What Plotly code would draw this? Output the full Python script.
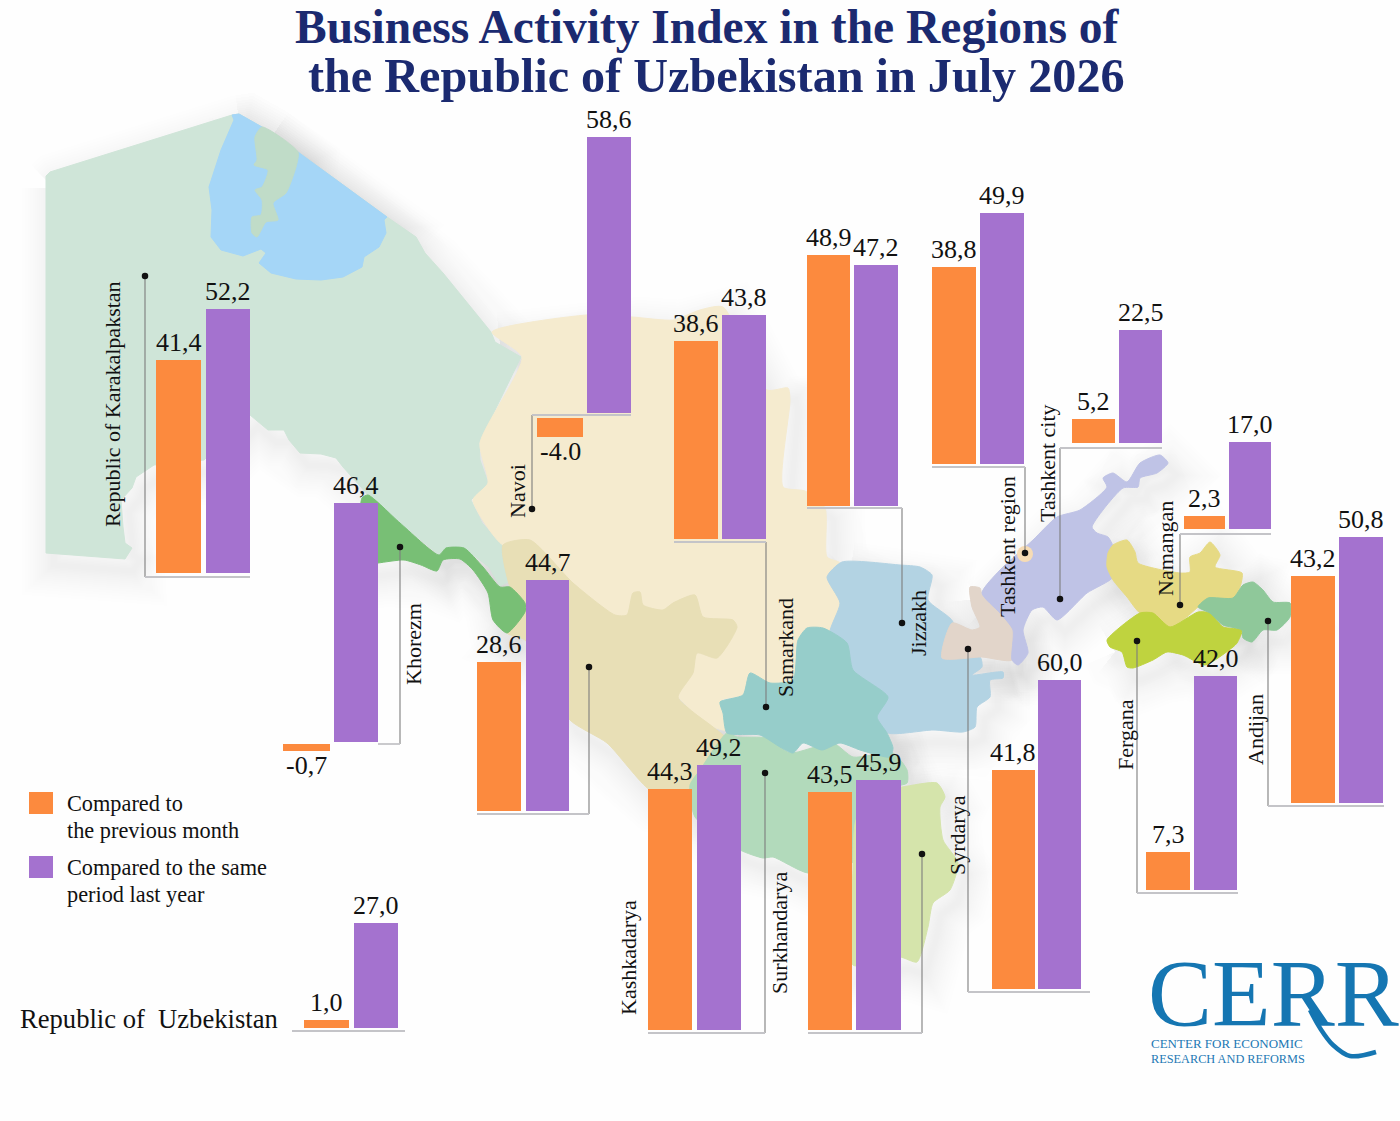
import plotly.graph_objects as go

W, H = 1400, 1121

# ---------- data ----------
regions = ["Republic of Karakalpakstan", "Navoi", "Samarkand", "Jizzakh", "Tashkent region",
           "Tashkent city", "Namangan", "Andijan", "Fergana", "Syrdarya", "Bukhara",
           "Khorezm", "Kashkadarya", "Surkhandarya", "Republic of Uzbekistan"]
prev_month = [41.4, -4.0, 38.6, 48.9, 38.8, 5.2, 2.3, 43.2, 7.3, 41.8, 28.6, -0.7, 44.3, 43.5, 1.0]
same_period = [52.2, 58.6, 43.8, 47.2, 49.9, 22.5, 17.0, 50.8, 42.0, 60.0, 44.7, 46.4, 49.2, 45.9, 27.0]
prev_labels = ["41,4", "-4.0", "38,6", "48,9", "38,8", "5,2", "2,3", "43,2", "7,3", "41,8", "28,6", "-0,7", "44,3", "43,5", "1,0"]
same_labels = ["52,2", "58,6", "43,8", "47,2", "49,9", "22,5", "17,0", "50,8", "42,0", "60,0", "44,7", "46,4", "49,2", "45,9", "27,0"]
series_names = ["Compared to<br>the previous month", "Compared to the same<br>period last year"]

# ---------- layout geometry (pixels of the page) ----------
ORANGE, PURPLE = "#fc8a3e", "#a472cf"
# per region: orange box, purple box as (x0, x1, top, bottom)
BOXES = [
    ((156, 201, 360, 573), (206, 250, 309, 573)),
    ((537, 583, 418, 437), (587, 631, 137, 413)),
    ((674, 718, 341, 539), (722, 766, 315, 539)),
    ((807, 850, 255, 506), (854, 898, 265, 506)),
    ((932, 976, 267, 464), (980, 1024, 213, 464)),
    ((1072, 1115, 419, 443), (1119, 1162, 330, 443)),
    ((1184, 1225, 516, 529), (1229, 1271, 442, 529)),
    ((1291, 1335, 576, 803), (1339, 1383, 537, 803)),
    ((1146, 1190, 852, 890), (1194, 1237, 676, 890)),
    ((992, 1035, 770, 989), (1038, 1081, 680, 989)),
    ((477, 521, 662, 811), (526, 569, 580, 811)),
    ((283, 330, 744, 751), (334, 378, 503, 742)),
    ((648, 692, 789, 1030), (697, 741, 765, 1030)),
    ((808, 852, 792, 1030), (856, 901, 780, 1030)),
    ((304, 349, 1020, 1028), (354, 398, 923, 1028)),
]
# leader: list of polyline points; first point carries the dot when there are three points
LEADERS = [
    [(145, 276), (145, 577), (250, 577)],
    [(532, 509), (532, 415), (631, 415)],
    [(766, 707), (766, 542), (674, 542)],
    [(902, 623), (902, 508), (807, 508)],
    [(1025, 553), (1025, 467), (932, 467)],
    [(1060, 599), (1060, 448), (1162, 448)],
    [(1180, 605), (1180, 534), (1271, 534)],
    [(1268, 621), (1268, 806), (1384, 806)],
    [(1137, 641), (1137, 893), (1238, 893)],
    [(968, 649), (968, 992), (1090, 992)],
    [(589, 667), (589, 814), (477, 814)],
    [(400, 547), (400, 744), (378, 744)],
    [(765, 773), (765, 1033), (648, 1033)],
    [(922, 854), (922, 1033), (808, 1033)],
    [(292, 1031), (405, 1031)],
]
ROT_LABELS = [
    ("Republic of Karakalpakstan", 112, 404), ("Navoi", 517, 491), ("Samarkand", 785, 648),
    ("Jizzakh", 918, 623), ("Tashkent region", 1007, 547), ("Tashkent city", 1047, 463),
    ("Namangan", 1165, 549), ("Andijan", 1255, 730), ("Fergana", 1125, 735),
    ("Syrdarya", 957, 835), ("Khorezm", 413, 644), ("Kashkadarya", 628, 958),
    ("Surkhandarya", 779, 933),
]

# ---------- decorative map outlines (pixels) ----------
KK = [(46,176),(50,172),(232,115),(239,114),(262,127),(298,152),(387,217),(416,237),(425,253),(443,273),
      (491,332),(495,342),(521,357),(479,443),(480,460),(488,483),(471,500),(482,523),(504,547),(521,575),
      (500,586),(489,567),(464,548),(446,548),(439,555),(400,523),(368,495),(343,467),(336,458),(321,454),
      (300,453),(289,440),(284,430),(268,430),(250,415),(204,460),(154,465),(136,477),(132,488),(121,500),
      (123,527),(125,543),(132,548),(125,559),(46,553)]
SEA = [(232,115),(239,114),(262,127),(298,152),(387,217),(384,220),(386,233),(379,247),(364,257),(362,267),
       (343,277),(321,280),(296,279),(271,273),(259,263),(266,253),(261,249),(243,256),(221,250),(211,237),
       (212,210),(209,187),(221,150),(234,120)]
ISLAND = [(262,127),(255,137),(257,160),(254,165),(268,170),(262,187),(255,190),(262,200),(261,215),(252,217),
          (252,233),(257,237),(266,222),(278,220),(273,203),(286,193),(296,167),(298,152)]
KHOREZM = [(362,498),(368,495),(400,523),(439,555),(446,548),(464,548),(483,567),(500,587),(510,587),(525,603),
           (525,612),(507,633),(493,620),(488,593),(473,570),(460,559),(443,560),(437,571),(421,565),(404,560),
           (378,563),(362,565)]
NAVOI = [(492,332),(587,315),(632,317),(673,320),(700,310),(723,307),(767,390),(788,388),(790,400),(783,487),
         (805,491),(825,508),(827,557),(840,563),(827,577),(840,603),(830,633),(798,640),(793,680),(770,683),
         (750,673),(743,695),(722,700),(727,730),(713,727),(693,712),(678,697),(600,640),(530,540),(503,545),
         (473,500),(488,483),(480,443),(522,357)]
BUKHARA = [(503,545),(530,540),(573,583),(615,615),(627,615),(633,593),(640,592),(643,605),(663,610),(673,603),
           (695,595),(703,617),(733,620),(737,627),(717,658),(697,653),(693,673),(678,697),(693,712),(713,727),
           (727,740),(700,770),(690,800),(650,790),(607,743),(570,720),(525,640),(507,633),(525,612),(510,587)]
JIZZAKH = [(842,562),(900,565),(920,567),(932,575),(928,600),(953,622),(942,658),(980,657),(982,667),(972,675),
           (1003,672),(1003,678),(990,680),(990,697),(977,707),(975,727),(963,732),(933,730),(888,733),(877,717),
           (888,697),(853,670),(847,643),(830,633),(840,603),(827,577)]
SYRDARYA = [(970,587),(980,588),(982,595),(1000,613),(1013,630),(1012,660),(982,657),(942,658),(952,623),(972,630),
            (980,627),(972,607)]
TASHKENT = [(982,593),(1000,570),(1033,540),(1057,517),(1080,510),(1107,487),(1103,478),(1113,473),(1127,482),
            (1140,463),(1160,455),(1168,463),(1157,473),(1140,478),(1138,487),(1123,488),(1092,527),(1097,533),
            (1108,537),(1113,547),(1107,557),(1113,577),(1087,593),(1057,620),(1043,607),(1032,610),(1023,630),
            (1028,653),(1018,665),(1012,660),(1013,630),(1000,613)]
NAMANGAN = [(1108,553),(1113,545),(1127,540),(1135,552),(1138,563),(1180,573),(1190,572),(1190,557),(1200,553),
            (1210,542),(1220,555),(1215,567),(1242,573),(1240,587),(1233,598),(1208,598),(1198,607),(1183,620),
            (1170,627),(1160,620),(1153,613),(1140,613),(1127,597),(1113,580),(1107,567)]
FERGANA = [(1107,640),(1140,613),(1153,613),(1170,627),(1198,612),(1210,613),(1223,627),(1242,630),(1237,643),
           (1233,647),(1205,665),(1183,655),(1167,652),(1153,660),(1133,668),(1127,667),(1122,652),(1110,647)]
ANDIJAN = [(1198,607),(1208,598),(1233,598),(1243,585),(1253,582),(1263,590),(1273,602),(1290,603),(1290,617),
           (1277,630),(1263,630),(1252,642),(1243,638),(1242,630),(1223,625),(1210,613)]
KASHKA = [(727,733),(737,737),(767,738),(790,753),(833,743),(853,757),(893,753),(907,770),(907,783),(880,790),
          (856,820),(856,860),(808,873),(773,857),(763,858),(740,850),(695,817),(690,785),(700,770)]
SURKHAN = [(880,790),(902,787),(937,783),(945,797),(940,807),(943,840),(958,863),(950,890),(933,903),(928,927),
           (917,962),(900,957),(853,965),(853,870),(856,820)]
SAMARKAND = [(720,702),(743,695),(750,673),(770,683),(793,680),(798,640),(807,628),(823,628),(847,643),(853,670),
             (888,697),(877,717),(887,733),(893,748),(890,757),(860,750),(840,743),(822,750),(803,743),(793,753),
             (780,747),(760,735),(727,733),(723,713)]
MAP = [
    (KK, "#cfe5d8", False), (SEA, "#a5d6f7", False), (ISLAND, "#c0dcc8", True), (NAVOI, "#f5ebcf", True),
    (BUKHARA, "#e8dfb6", True), (KHOREZM, "#78bf75", True), (JIZZAKH, "#b3d3e3", True), (SYRDARYA, "#e2d5ca", True),
    (TASHKENT, "#bfc3e6", True), (NAMANGAN, "#e6da84", True), (FERGANA, "#bfd33f", True), (ANDIJAN, "#8fc89a", True),
    (KASHKA, "#b2dabb", True), (SURKHAN, "#d5e4ab", True), (SAMARKAND, "#96cdca", True),
]
SERIF = "Liberation Serif"
fig = go.Figure()

# soft shadow under the map
sx, sy = [], []
for poly, _, _ in MAP:
    sx += [p[0] + 8 for p in poly] + [poly[0][0] + 8, None]
    sy += [p[1] + 12 for p in poly] + [poly[0][1] + 12, None]
for w in (64, 58, 52, 47, 42, 37, 33, 29, 25, 21, 17, 14, 11, 8, 5):
    fig.add_trace(go.Scatter(x=sx, y=sy, mode="lines", line=dict(color="rgba(90,90,90,0.007)", width=w),
                             hoverinfo="skip", showlegend=False, xaxis="x", yaxis="y"))
# regions
for poly, col, smooth in MAP:
    xs = [p[0] for p in poly] + [poly[0][0]]
    ys = [p[1] for p in poly] + [poly[0][1]]
    line = dict(color=col, width=1, shape="spline", smoothing=0.6) if smooth else dict(color=col, width=1)
    fig.add_trace(go.Scatter(x=xs, y=ys, mode="lines", fill="toself", fillcolor=col, line=line,
                             hoverinfo="skip", showlegend=False, xaxis="x", yaxis="y"))
# Tashkent city spot
fig.add_trace(go.Scatter(x=[1025], y=[554], mode="markers", marker=dict(size=16, color="#f7dcb4"),
                         hoverinfo="skip", showlegend=False, xaxis="x", yaxis="y"))
# leaders
for pts in LEADERS:
    if len(pts) == 3:
        fig.add_trace(go.Scatter(x=[pts[0][0], pts[1][0]], y=[pts[0][1], pts[1][1]], mode="lines",
                                 line=dict(color="#7d7d7d", width=1.1), hoverinfo="skip", showlegend=False))
        fig.add_trace(go.Scatter(x=[pts[1][0], pts[2][0]], y=[pts[1][1], pts[2][1]], mode="lines",
                                 line=dict(color="#c4c4c8", width=1.8), hoverinfo="skip", showlegend=False))
        fig.add_trace(go.Scatter(x=[pts[0][0]], y=[pts[0][1]], mode="markers", marker=dict(size=6.5, color="#111"),
                                 hoverinfo="skip", showlegend=False))
    else:
        fig.add_trace(go.Scatter(x=[p[0] for p in pts], y=[p[1] for p in pts], mode="lines",
                                 line=dict(color="#c4c4c8", width=1.8), hoverinfo="skip", showlegend=False))
# CERR tail
fig.add_trace(go.Scatter(x=[1310, 1320, 1333, 1350, 1376], y=[1010, 1028, 1045, 1056, 1052], mode="lines",
                         line=dict(color="#1576b2", width=4.5, shape="spline"),
                         hoverinfo="skip", showlegend=False))

layout = dict(
    width=W, height=H, margin=dict(l=0, r=0, t=0, b=0), paper_bgcolor="#fefefe", plot_bgcolor="rgba(0,0,0,0)",
    showlegend=False, bargap=0,
    xaxis=dict(domain=[0, 1], range=[0, W], visible=False, fixedrange=True),
    yaxis=dict(domain=[0, 1], range=[H, 0], visible=False, fixedrange=True),
)
annotations = []

def px_note(text, x, y, size, color="#111", angle=0, xanchor="center", bold=False):
    if bold:
        text = "<b>" + text + "</b>"
    annotations.append(dict(text=text, x=x, y=y, xref="x", yref="y", showarrow=False, textangle=angle,
                            xanchor=xanchor, yanchor="middle", align="left",
                            font=dict(family=SERIF, size=size, color=color)))

n = 2
for i, region in enumerate(regions):
    for v, lab, box, col in ((prev_month[i], prev_labels[i], BOXES[i][0], ORANGE),
                             (same_period[i], same_labels[i], BOXES[i][1], PURPLE)):
        x0, x1, top, bot = box
        layout[f"xaxis{n}"] = dict(domain=[x0 / W, x1 / W], range=[-0.5, 0.5], visible=False,
                                   fixedrange=True, anchor=f"y{n}")
        layout[f"yaxis{n}"] = dict(domain=[1 - bot / H, 1 - top / H], range=[min(v, 0), max(v, 0)], visible=False,
                                   fixedrange=True, anchor=f"x{n}")
        fig.add_trace(go.Bar(x=[0], y=[v], width=[1], marker=dict(color=col, line=dict(width=0)),
                             xaxis=f"x{n}", yaxis=f"y{n}", name=region, hovertemplate=region + ": %{y}<extra></extra>",
                             cliponaxis=False))
        annotations.append(dict(text=lab, x=0, y=v, xref=f"x{n}", yref=f"y{n}", showarrow=False,
                                xanchor="center", yanchor="bottom" if v > 0 else "top", yshift=1 if v > 0 else 2,
                                font=dict(family=SERIF, size=26, color="#111")))
        n += 1

for text, x, y in ROT_LABELS:
    px_note(text, x, y, 22, angle=-90)

px_note("Republic of&nbsp;&nbsp;Uzbekistan", 18, 1019, 26.6, xanchor="left")
px_note("Business Activity Index in the Regions of", 707, 27, 47.5, color="#1b2a70", bold=True)
px_note("the Republic of Uzbekistan in July 2026", 716, 75, 48.2, color="#1b2a70", bold=True)

shapes = [
    dict(type="rect", xref="x", yref="y", x0=29, x1=53, y0=792, y1=814, fillcolor=ORANGE, line=dict(width=0)),
    dict(type="rect", xref="x", yref="y", x0=29, x1=53, y0=856, y1=878, fillcolor=PURPLE, line=dict(width=0)),
]
px_note(series_names[0].split("<br>")[0], 65, 803, 22.3, xanchor="left")
px_note(series_names[0].split("<br>")[1], 65, 830, 22.3, xanchor="left")
px_note(series_names[1].split("<br>")[0], 65, 867, 22.3, xanchor="left")
px_note(series_names[1].split("<br>")[1], 65, 894, 22.3, xanchor="left")

px_note("CERR", 1146, 993, 96, color="#1576b2", xanchor="left")
px_note("CENTER FOR ECONOMIC", 1149, 1043, 13, color="#1c78b4", xanchor="left")
px_note("RESEARCH AND REFORMS", 1149, 1059, 12.3, color="#1c78b4", xanchor="left")

fig.update_layout(annotations=annotations, shapes=shapes, **layout)
fig.write_html("out.html", config=dict(displayModeBar=False),
               post_script="document.body.style.margin='0';document.body.style.overflow='hidden';")
